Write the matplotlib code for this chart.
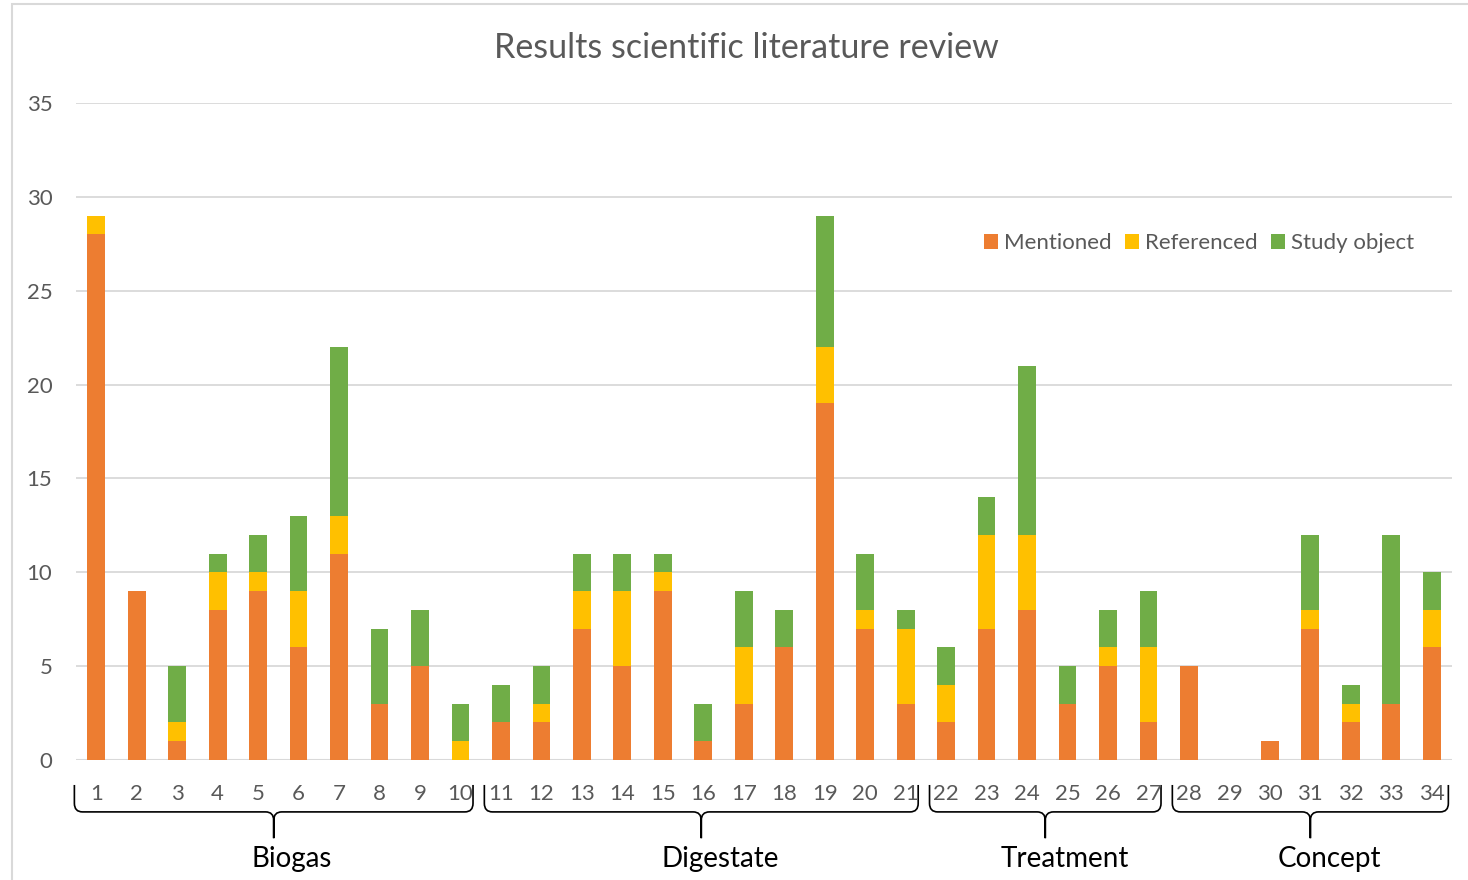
import matplotlib.pyplot as plt
import numpy as np
from matplotlib.path import Path
from matplotlib.patches import PathPatch, Rectangle
from matplotlib.transforms import blended_transform_factory

plt.rcParams['font.family'] = ['Lato', 'DejaVu Sans']

# papers 1..34 and how each category appears in them
papers = list(range(1, 35))
mentioned = [28, 9, 1, 8, 9, 6, 11, 3, 5, 0,
             2, 2, 7, 5, 9, 1, 3, 6, 19, 7, 3,
             2, 7, 8, 3, 5, 2,
             5, 0, 1, 7, 2, 3, 6]
referenced = [1, 0, 1, 2, 1, 3, 2, 0, 0, 1,
              0, 1, 2, 4, 1, 0, 3, 0, 3, 1, 4,
              2, 5, 4, 0, 1, 4,
              0, 0, 0, 1, 1, 0, 2]
study_object = [0, 0, 3, 1, 2, 4, 9, 4, 3, 2,
                2, 2, 2, 2, 1, 2, 3, 2, 7, 3, 1,
                2, 2, 9, 2, 2, 3,
                0, 0, 0, 4, 1, 9, 2]

groups = ['Biogas', 'Digestate', 'Treatment', 'Concept']
group_first = [1, 11, 22, 28]
group_last = [10, 21, 27, 34]

GRAY = '#595959'
fig = plt.figure(figsize=(14.68, 8.8), dpi=100)
ax = fig.add_axes([76 / 1468, 1 - 760 / 880, 1376 / 1468, 657 / 880])

# chart area border
fig.add_artist(Rectangle((12 / 1468, -0.1), 1.2, 1 - 4 / 880 + 0.1,
                         transform=fig.transFigure, fill=False,
                         edgecolor='#d9d9d9', linewidth=1.5))

x = np.array(papers)
m = np.array(mentioned)
r = np.array(referenced)
s = np.array(study_object)
w = 0.44
ax.bar(x, m, w, color='#ED7D31', label='Mentioned', zorder=3)
ax.bar(x, r, w, bottom=m, color='#FFC000', label='Referenced', zorder=3)
ax.bar(x, s, w, bottom=m + r, color='#70AD47', label='Study object', zorder=3)

ax.set_xlim(0.5, 34.5)
ax.set_ylim(0, 35)
ax.set_yticks(range(0, 36, 5))
ax.set_xticks(papers)
ax.grid(axis='y', color='#d9d9d9', linewidth=1.3, zorder=0)
for sp in ax.spines.values():
    sp.set_visible(False)
ax.axhline(0, color='#d9d9d9', linewidth=1.5, zorder=2)
ax.tick_params(axis='both', length=0, labelsize=16, labelcolor=GRAY)
ax.tick_params(axis='y', pad=17)
ax.tick_params(axis='x', pad=17)

fig.text(746 / 1468, 1 - 48 / 880, 'Results scientific literature review',
         fontsize=24.5, color=GRAY, ha='center', va='center')

leg = ax.legend(loc='center right', bbox_to_anchor=(0.9786, 0.787), ncol=3,
                frameon=False, fontsize=16, handlelength=0.65,
                handleheight=0.65, handletextpad=0.25, columnspacing=0.6,
                borderaxespad=0)
for t in leg.get_texts():
    t.set_color(GRAY)

# curly braces under the groups
tr = blended_transform_factory(ax.transData, ax.transAxes)
top, bot, tip = -0.038, -0.079, -0.119
dx, dy = 0.2, 0.013
label_x = [5.82, 16.43, 24.93, 31.48]
for g, a, b, lx in zip(groups, group_first, group_last, label_x):
    x0 = a - 0.55 + (0.01 if a == 1 else 0.14)
    x1 = b + 0.45 - (0.04 if b == 34 else 0.14)
    xm = (x0 + x1) / 2
    verts = [(x0, top), (x0, bot + dy), (x0, bot), (x0 + dx, bot),
             (xm - dx, bot), (xm, bot), (xm, bot - dy), (xm, tip),
             (xm, bot - dy), (xm, bot), (xm + dx, bot),
             (x1 - dx, bot), (x1, bot), (x1, bot + dy), (x1, top)]
    codes = [Path.MOVETO, Path.LINETO, Path.CURVE3, Path.CURVE3,
             Path.LINETO, Path.CURVE3, Path.CURVE3, Path.LINETO,
             Path.LINETO, Path.CURVE3, Path.CURVE3,
             Path.LINETO, Path.CURVE3, Path.CURVE3, Path.LINETO]
    ax.add_patch(PathPatch(Path(verts, codes), transform=tr, fill=False,
                           edgecolor='black', linewidth=1.2, clip_on=False))
    ax.text(lx, -0.151, g, transform=tr, ha='center', va='center',
            fontsize=20, color='black')

fig.savefig('out.png', dpi=100)
